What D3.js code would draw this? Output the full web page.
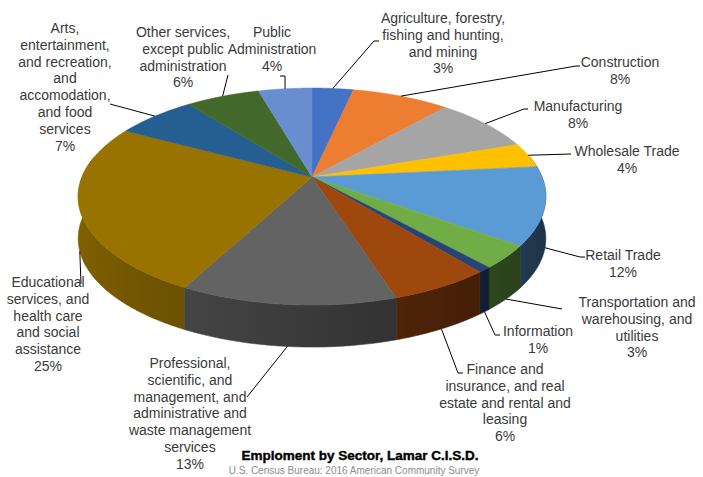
<!DOCTYPE html>
<html><head><meta charset="utf-8">
<script src="https://cdn.jsdelivr.net/npm/d3@7"></script>
<style>
body{margin:0;background:#fff;}
svg{display:block;font-family:"Liberation Sans",Arial,sans-serif;}
</style>
</head><body>
<svg id="c" width="703" height="477"></svg>
<script>
// ---------- DATA ----------
const categories = [
  "Agriculture, forestry,\nfishing and hunting,\nand mining",
  "Construction",
  "Manufacturing",
  "Wholesale Trade",
  "Retail Trade",
  "Transportation and\nwarehousing, and\nutilities",
  "Information",
  "Finance and\ninsurance, and real\nestate and rental and\nleasing",
  "Professional,\nscientific, and\nmanagement, and\nadministrative and\nwaste management\nservices",
  "Educational\nservices, and\nhealth care\nand social\nassistance",
  "Arts,\nentertainment,\nand recreation,\nand\naccomodation,\nand food\nservices",
  "Other services,\nexcept public\nadministration",
  "Public\nAdministration"
];
const values = [3.4, 8.0, 8.3, 3.7, 11.6, 3.4, 0.8, 5.9, 12.6, 25.2, 6.6, 6.1, 4.4];
const colors = ["#4472C4","#ED7D31","#A5A5A5","#FFC000","#5B9BD5","#70AD47","#264478",
                "#9E480E","#636363","#997300","#255E91","#43682B","#698ED0"];
const titleText = "Emploment by Sector, Lamar C.I.S.D.";
const sourceText = "U.S. Census Bureau: 2016 American Community Survey";

// ---------- LAYOUT ----------
const labelLayout = [
  {x:443, y:23,  pts:[[374,41],[379,41]]},
  {x:620, y:67,  pts:[[576,66],[580,66]]},
  {x:578, y:111, pts:[[524,109],[528,109]]},
  {x:627, y:156, pts:[[571,154]]},
  {x:623, y:260, pts:[[580,257],[585,257]]},
  {x:637, y:307, pts:[[562,309]]},
  {x:538, y:336, pts:[[495,335],[500,335]]},
  {x:505, y:374, pts:[[458,373],[463,373]]},
  {x:190, y:368, pts:[[247,397]]},
  {x:48,  y:287, pts:[[81,284]]},
  {x:65,  y:33,  pts:[[110,104]]},
  {x:183, y:37,  pts:[[228,75]]},
  {x:272, y:37,  pts:[[285,76],[280,76]]}
];
const cx = 312, cy = 177, A = 230, B = 105, K = 0.18, DEPTH = 42;
const LH = 16.8;

const svg = d3.select("#c");
const defs = svg.append("defs");
const color = d3.scaleOrdinal(categories, colors);
const total = d3.sum(values);
const fmt = d3.format(".0%");

const pie = d3.pie().sort(null).value(d => d.v).startAngle(0).endAngle(2*Math.PI);
const arcs = pie(values.map((v,i) => ({v, c: categories[i]})));

function proj(t, dz = 0) {
  const u = Math.sin(t), v = -Math.cos(t), s = 1/(1 - K*v);
  return [cx + A*u*s, cy + B*v*s + dz];
}
function shade(c, f) {
  const r = d3.rgb(c);
  return d3.rgb(r.r*f, r.g*f, r.b*f).formatHex();
}
const shadeF = t => 0.58 - 0.25*Math.sin(t);

// ---------- SIDES ----------
const lo = Math.PI/2 - 0.2, hi = 3*Math.PI/2 + 0.2;
const step = Math.PI/360;
const sides = [];
arcs.forEach((a, i) => {
  const s0 = Math.max(a.startAngle, lo), s1 = Math.min(a.endAngle, hi);
  if (s1 <= s0) return;
  const n = Math.max(2, Math.ceil((s1 - s0)/step));
  const ts = d3.range(n + 1).map(k => s0 + (s1 - s0)*k/n);
  const top = ts.map(t => proj(t));
  const bot = ts.map(t => proj(t, DEPTH)).reverse();
  const xs = top.map(p => p[0]);
  const x0 = d3.min(xs), x1 = d3.max(xs);
  const gid = "g" + i;
  const g = defs.append("linearGradient").attr("id", gid)
    .attr("gradientUnits", "userSpaceOnUse")
    .attr("x1", x0).attr("x2", x1 + 0.01).attr("y1", 0).attr("y2", 0);
  const stops = ts.filter((t, k) => k % 4 === 0 || k === n)
    .map(t => ({o: (proj(t)[0] - x0)/(x1 - x0 + 0.01), c: shade(color(a.data.c), shadeF(t))}))
    .sort((p, q) => p.o - q.o);
  g.selectAll("stop").data(stops).join("stop")
    .attr("offset", d => Math.max(0, Math.min(1, d.o))).attr("stop-color", d => d.c);
  sides.push({d: d3.line()(top.concat(bot)) + "Z", gid, depth: -Math.cos((s0 + s1)/2)});
});
sides.sort((p, q) => p.depth - q.depth);
svg.append("g").selectAll("path").data(sides).join("path")
  .attr("d", d => d.d)
  .attr("fill", d => `url(#${d.gid})`).attr("stroke", d => `url(#${d.gid})`).attr("stroke-width", 0.6);

// ---------- TOP FACE ----------
const line = d3.line();
svg.append("g").selectAll("path").data(arcs).join("path")
  .attr("d", a => {
    const n = Math.max(2, Math.ceil((a.endAngle - a.startAngle)/(Math.PI/360)));
    const pts = [[cx, cy]];
    for (let i = 0; i <= n; i++) pts.push(proj(a.startAngle + (a.endAngle - a.startAngle)*i/n));
    return line(pts) + "Z";
  })
  .attr("fill", a => color(a.data.c)).attr("stroke", a => color(a.data.c)).attr("stroke-width", 0.5);

// ---------- LEADERS ----------
const leaders = svg.append("g");
arcs.forEach((a, i) => {
  const tm = (a.startAngle + a.endAngle)/2;
  const front = tm > Math.PI/2 && tm < 3*Math.PI/2;
  const anchor = proj(tm, front ? DEPTH : 0);
  leaders.append("path")
    .attr("d", d3.line()([anchor, ...labelLayout[i].pts]))
    .attr("fill", "none").attr("stroke", "#000").attr("stroke-width", 1);
});

// ---------- LABELS ----------
const lab = svg.append("g").attr("font-size", 14).attr("fill", "#3a3a3a").attr("text-anchor", "middle");
arcs.forEach((a, i) => {
  const L = labelLayout[i];
  const lines = a.data.c.split("\n").concat([fmt(a.data.v/total)]);
  const t = lab.append("text").attr("x", L.x).attr("y", L.y);
  lines.forEach((s, j) => t.append("tspan").attr("x", L.x).attr("dy", j === 0 ? 0 : LH).text(s));
});

// ---------- TITLE ----------
svg.append("text").attr("x", 360).attr("y", 460).attr("text-anchor", "middle")
  .attr("font-size", 13.5).attr("font-weight", 900).attr("fill", "#000")
  .attr("stroke", "#000").attr("stroke-width", 0.4)
  .text(titleText);
svg.append("text").attr("x", 354).attr("y", 474).attr("text-anchor", "middle")
  .attr("font-size", 10).attr("fill", "#8c8c8c")
  .text(sourceText);
</script>
</body></html>
